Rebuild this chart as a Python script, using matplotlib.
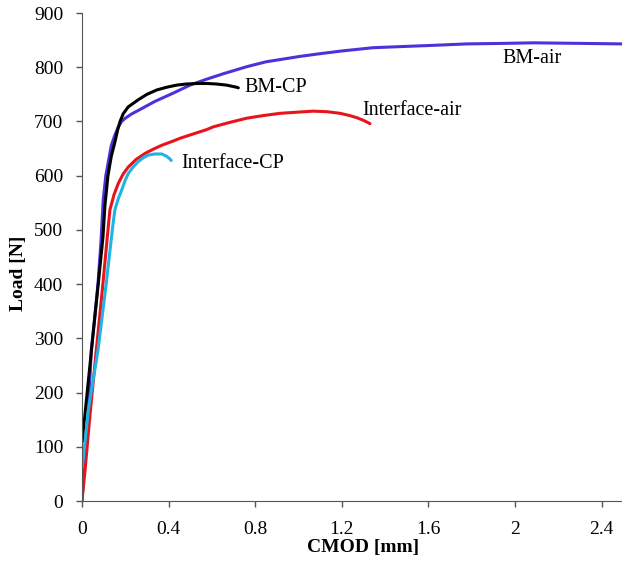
import numpy as np
import matplotlib
matplotlib.use('Agg')
import matplotlib.pyplot as plt

plt.rcParams['font.family'] = ['Liberation Serif', 'DejaVu Serif']

# CMOD [mm] / Load [N]
bm_air_x = [0.0, 0.012, 0.028, 0.043, 0.059, 0.074, 0.088, 0.098, 0.11, 0.12, 0.135, 0.152,
            0.168, 0.183, 0.2, 0.23, 0.268, 0.3, 0.337, 0.42, 0.499, 0.576, 0.653, 0.761,
            0.85, 1.007, 1.1, 1.2, 1.345, 1.469, 1.6, 1.777, 1.95, 2.083, 2.3, 2.494]
bm_air_y = [0, 75, 155, 278, 340, 401, 480, 555, 600, 622, 655, 675,
            690, 700, 706, 714, 722, 729, 737, 752, 767, 778, 788, 801,
            810, 820, 825, 830, 836, 838, 840, 843, 844, 845, 844, 843]

bm_cp_x = [0.003, 0.005, 0.043, 0.075, 0.097, 0.106, 0.12, 0.135, 0.152, 0.165, 0.176,
           0.19, 0.214, 0.26, 0.3, 0.345, 0.39, 0.437, 0.48, 0.53, 0.58, 0.622, 0.668,
           0.715, 0.722]
bm_cp_y = [110, 125, 275, 400, 487, 545, 600, 635, 662, 685, 700,
           714, 727, 740, 750, 758, 763, 767, 769, 770, 770, 769, 767,
           763, 762]

if_air_x = [0.0, 0.015, 0.035, 0.066, 0.097, 0.12, 0.129, 0.148, 0.168, 0.19, 0.214, 0.25,
            0.291, 0.33, 0.368, 0.422, 0.453, 0.522, 0.576, 0.606, 0.68, 0.761, 0.84,
            0.915, 0.99, 1.068, 1.13, 1.192, 1.235, 1.269, 1.30, 1.330]
if_air_y = [0, 60, 150, 278, 402, 500, 537, 565, 586, 603, 616, 630,
            641, 649, 656, 664, 669, 678, 685, 690, 698, 706, 711,
            715, 717, 719, 718, 715, 711, 707, 702, 696]

if_cp_x = [0.0, 0.005, 0.03, 0.074, 0.112, 0.143, 0.152, 0.168, 0.183, 0.2, 0.214, 0.236,
           0.26, 0.283, 0.306, 0.336, 0.368, 0.39, 0.406, 0.412]
if_cp_y = [60, 75, 170, 278, 401, 510, 537, 558, 573, 592, 604, 616,
           626, 633, 638, 640, 640, 636, 631, 628]

series = [
    (bm_air_x, bm_air_y, '#5030DC', 'BM-air', (1.94, 816)),
    (if_air_x, if_air_y, '#E8141C', 'Interface-air', (1.296, 721)),
    (bm_cp_x, bm_cp_y, 'black', 'BM-CP', (0.748, 763)),
    (if_cp_x, if_cp_y, '#1EB4E6', 'Interface-CP', (0.46, 623)),
]

fig = plt.figure(figsize=(6.22, 5.63), dpi=100)
ax = fig.add_axes([0.1318, 0.1101, 0.8682, 0.8668])

for xs, ys, col, name, pos in series:
    ax.plot(xs, ys, color=col, lw=2.2, solid_capstyle='round', solid_joinstyle='round')
    ax.text(pos[0], pos[1], name, fontsize=14.5, va='center', ha='left')

ax.set_xlim(0, 2.494)
ax.set_ylim(0, 900)
ax.set_xticks([0, 0.4, 0.8, 1.2, 1.6, 2.0, 2.4])
ax.set_xticklabels(['0', '0.4', '0.8', '1.2', '1.6', '2', '2.4'])
ax.set_yticks(np.arange(0, 901, 100))
ax.tick_params(labelsize=14, direction='out', length=4.5, color='#555555', width=1)
ax.tick_params(axis='x', pad=10)
ax.tick_params(axis='y', pad=9)
ax.spines['top'].set_visible(False)
ax.spines['right'].set_visible(False)
ax.spines['left'].set_color('#555555')
ax.spines['bottom'].set_color('#555555')
ax.set_xlabel('CMOD [mm]', fontsize=14, fontweight='bold')
ax.set_ylabel('Load [N]', fontsize=14, fontweight='bold')
ax.xaxis.set_label_coords(0.52, -0.078)
ax.yaxis.set_label_coords(-0.102, 0.467)

fig.savefig('out.png', dpi=100)
